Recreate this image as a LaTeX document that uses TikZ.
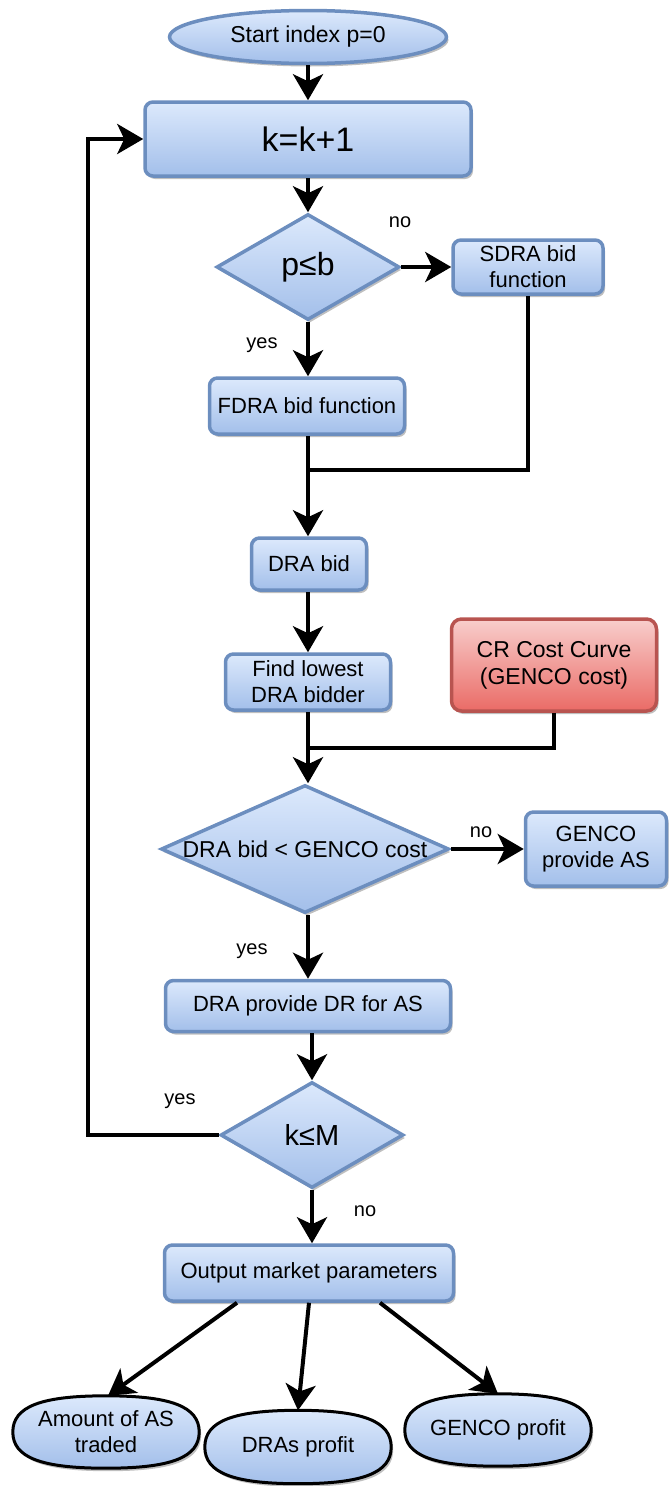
\documentclass[tikz,border=0pt]{standalone}
\usepackage{fontspec}
\setmainfont{Liberation Sans}
\usetikzlibrary{shapes.geometric,arrows.meta,shadows,calc}
\definecolor{bstroke}{HTML}{6C8EBF}
\definecolor{btop}{HTML}{DCE9FC}
\definecolor{bbot}{HTML}{A3BFEA}
\definecolor{rstroke}{HTML}{B85450}
\definecolor{rtop}{HTML}{F8CECC}
\definecolor{rbot}{HTML}{EA6B66}
\newcommand\fsz[1]{\fontsize{#1}{#1}\selectfont}
\newcommand\squircle[1]{%
  \draw[black, line width=3pt, top color=btop, bottom color=bbot, shd]
    (#1.west) .. controls ($(#1.west)!0.7!(#1.north west)$) and ($(#1.north)!0.7!(#1.north west)$) ..
    (#1.north) .. controls ($(#1.north)!0.7!(#1.north east)$) and ($(#1.east)!0.7!(#1.north east)$) ..
    (#1.east) .. controls ($(#1.east)!0.7!(#1.south east)$) and ($(#1.south)!0.7!(#1.south east)$) ..
    (#1.south) .. controls ($(#1.south)!0.7!(#1.south west)$) and ($(#1.west)!0.7!(#1.south west)$) ..
    (#1.west) -- cycle;}
\tikzset{
  shd/.style={drop shadow={shadow xshift=2pt,shadow yshift=-3pt,opacity=0.25,fill=black}},
  box/.style={rectangle, rounded corners=8pt, draw=bstroke, line width=3.5pt,
    top color=btop, bottom color=bbot, align=center, inner sep=0pt, shd,
    font=\fontsize{22}{26}\selectfont},
  redbox/.style={box, draw=rstroke, top color=rtop, bottom color=rbot, rounded corners=10pt},
  dia/.style={diamond, draw=bstroke, line width=3.5pt, top color=btop, bottom color=bbot,
    inner sep=0pt, shd},
  oval/.style={ellipse, draw=bstroke, line width=3.5pt, top color=btop, bottom color=bbot,
    align=center, inner sep=0pt, shd, font=\fontsize{23}{27}\selectfont},
  termspace/.style={rectangle, inner sep=0pt},
  ttext/.style={align=center, inner sep=0pt, font=\fontsize{22}{26}\selectfont},
  lbl/.style={font=\fontsize{20}{24}\selectfont, inner sep=0pt},
  arr/.style={line width=4pt, -{Stealth[length=26pt,width=30pt,inset=7pt]}},
  ln/.style={line width=4pt}
}
\begin{document}
\begin{tikzpicture}[x=1pt,y=-1pt]
\useasboundingbox (0,0) rectangle (670,1486);
\node[oval, minimum width=277pt, minimum height=53pt] (start) at (308,37) {Start index p=0};
\node[box, minimum width=326pt, minimum height=74pt, font=\fsz{34}] (k) at (308,139) {k=k+1};
\node[dia, minimum width=183pt, minimum height=106pt] (d1) at (308,267) {};
\node[font=\fsz{32}, inner sep=0pt] (d1t) at (308,267) {p≤b};
\node[box, minimum width=150pt, minimum height=54pt] (sdra) at (528,267) {SDRA bid\\function};
\node[box, minimum width=195pt, minimum height=56pt] (fdra) at (307,406) {FDRA bid function};
\node[box, minimum width=115pt, minimum height=52pt] (drabid) at (309,564) {DRA bid};
\node[box, minimum width=165pt, minimum height=56pt] (find) at (308,682) {Find lowest\\DRA bidder};
\node[redbox, minimum width=205pt, minimum height=92pt, font=\fontsize{23}{27}\selectfont] (cr) at (554,665) {CR Cost Curve\\(GENCO cost)};
\node[dia, minimum width=288pt, minimum height=128pt] (d2) at (305,849) {};
\node[font=\fsz{23}, inner sep=0pt] (d2t) at (305,849) {DRA bid < GENCO cost};
\node[box, minimum width=141pt, minimum height=74pt] (genco) at (596,849) {GENCO\\provide AS};
\node[box, minimum width=285pt, minimum height=51pt] (drp) at (308,1006) {DRA provide DR for AS};
\node[dia, minimum width=183pt, minimum height=106pt] (d3) at (312,1135) {};
\node[font=\fsz{29}, inner sep=0pt] (d3t) at (312,1135) {k≤M};
\node[box, minimum width=289pt, minimum height=56pt] (out) at (309,1273) {Output market parameters};
\node[termspace, minimum width=186pt, minimum height=72pt] (a1) at (106,1432) {};
\node[termspace, minimum width=186pt, minimum height=73pt] (a2) at (298,1447) {};
\node[termspace, minimum width=186pt, minimum height=72pt] (a3) at (498,1430) {};
\squircle{a1}
\squircle{a2}
\squircle{a3}
\node[ttext] (a1t) at (a1) {Amount of AS\\traded};
\node[ttext] (a2t) at (a2) {DRAs profit};
\node[ttext] (a3t) at (a3) {GENCO profit};
% labels
\node[lbl] (l1) at (400,222) {no};
\node[lbl] (l2) at (262,345) {yes};
\node[lbl] (l3) at (481,832) {no};
\node[lbl] (l4) at (252,951) {yes};
\node[lbl] (l5) at (180,1101) {yes};
\node[lbl] (l6) at (365,1211) {no};
% coordinates
\coordinate (j1) at (308,470);
\coordinate (j2) at (308,748);
\coordinate (lp1) at (88,1135);
\coordinate (lp2) at (88,139);
% connectors
\draw[arr] (start.south -| k.north) -- (k.north);
\draw[arr] (k.south) -- (d1.north);
\draw[arr] (d1.east) -- (sdra.west);
\draw[arr] (d1.south) -- (fdra.north -| d1.south);
\draw[ln] (sdra.south) -- (sdra.south |- j1) -- (j1);
\draw[arr] (fdra.south -| j1) -- (drabid.north -| j1);
\draw[arr] (drabid.south -| j1) -- (find.north -| j1);
\draw[ln] (cr.south) -- (cr.south |- j2) -- (j2);
\draw[arr] (find.south -| j2) -- (d2.north -| j2);
\draw[arr] (d2.east) -- (genco.west);
\draw[arr] (d2.south -| drp.north) -- (drp.north);
\draw[arr] (drp.south -| d3.north) -- (d3.north);
\draw[arr] (d3.west) -- (lp1) -- (lp2) -- (k.west);
\draw[arr] (d3.south) -- (out.north -| d3.south);
\draw[arr] ([xshift=-72pt]out.south) -- ([xshift=2pt]a1.north);
\draw[arr] (out.south) -- (a2.north);
\draw[arr] ([xshift=71pt]out.south) -- (a3.north);
\end{tikzpicture}
\end{document}
